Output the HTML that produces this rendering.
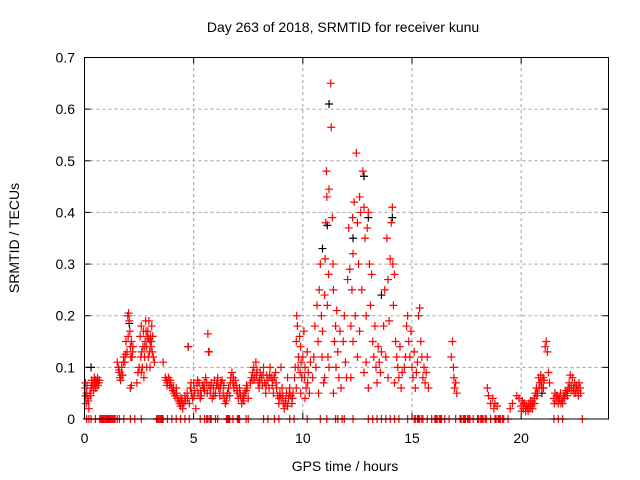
<!DOCTYPE html>
<html><head><meta charset="utf-8"><style>
body{margin:0;background:#fff;}
svg{display:block;font-family:"Liberation Sans",sans-serif;}
</style></head><body>
<svg id="chart" width="640" height="480">
<text x="343" y="32" text-anchor="middle" font-size="14">Day 263 of 2018, SRMTID for receiver kunu</text>
<text x="345" y="471" text-anchor="middle" font-size="14">GPS time / hours</text>
<text transform="translate(19,238) rotate(-90)" text-anchor="middle" font-size="14">SRMTID / TECUs</text>
<g id="grid"></g><g id="ticks"></g><g id="marks"></g>
<rect x="84.5" y="57.5" width="524" height="361.5" fill="none" stroke="#000" stroke-width="1"/>
</svg>
<script>
const xTicks=[0,5,10,15,20];
const yTicks=[0,0.1,0.2,0.3,0.4,0.5,0.6,0.7];
const yTickLabels=["0","0.1","0.2","0.3","0.4","0.5","0.6","0.7"];
const redPoints=[
[0.02,.06],[0.05,.045],[0.08,.03],[0.1,.05],[0.12,.065],[0.15,.04],[0.2,.02],[0.25,.05],[0.3,.06],[0.35,.065],[0.4,.07],[0.42,.055],[0.45,.08],[0.5,.075],[0.52,.06],[0.55,.07],[0.6,.08],[0.62,.065],[0.65,.07],
[0.04,.07],[0.18,.035],[0.33,.075],[0.47,.065],[0.58,.075],[0.68,.075],[0.28,.045],
[1.5,.11],[1.55,.1],[1.6,.09],[1.62,.08],[1.65,.075],[1.7,.1],[1.75,.085],[1.8,.12],[1.85,.11],[1.9,.15],[1.95,.13],[1.98,.2],[2.02,.205],[2.05,.19],[2.08,.17],[2.1,.14],[2.12,.12],[2.15,.15],[2.2,.13],[2.22,.14],[2.1,.06],[2.15,.065],
[1.58,.095],[1.68,.085],[1.88,.125],[2.0,.16],[2.18,.12],[1.78,.11],
[2.4,.07],[2.45,.09],[2.5,.1],[2.55,.16],[2.6,.18],[2.62,.13],[2.65,.1],[2.7,.17],[2.72,.08],[2.75,.12],[2.78,.15],[2.8,.19],[2.85,.14],[2.88,.16],[2.9,.17],[2.92,.12],[2.95,.19],[3.0,.15],[3.02,.16],[3.05,.14],[3.08,.18],[3.1,.13],[3.12,.16],[3.15,.12],[3.2,.11],[2.6,.09],[2.85,.1],[3.0,.1],
[2.68,.14],[2.82,.17],[2.98,.13],[3.06,.15],[2.58,.12],[2.76,.14],[2.94,.155],
[3.6,.11],[3.7,.08],[3.75,.075],[3.8,.07],[3.85,.08],[3.9,.065],[3.95,.07],[4.0,.06],[4.05,.055],[4.1,.05],[4.15,.045],[4.2,.06],[4.25,.04],[4.3,.035],[4.35,.03],[4.4,.025],[4.45,.04],[4.5,.02],[4.55,.03],[4.6,.045],
[3.78,.065],[3.92,.075],[4.08,.06],[4.22,.05],[4.38,.04],[4.48,.03],[4.62,.035],
[4.7,.05],[4.75,.14],[4.8,.03],[4.85,.06],[4.9,.05],[4.95,.04],[5.0,.07],[5.05,.055],[5.1,.02],[5.15,.065],[5.2,.05],[5.25,.07],[5.3,.04],[5.35,.045],[5.4,.065],[5.45,.06],[5.5,.055],[5.55,.08],[5.6,.07],[5.65,.165],[5.68,.13],[5.7,.065],[5.75,.05],[5.8,.07],[5.85,.04],[5.9,.06],[5.95,.075],[6.0,.05],[6.05,.065],[6.1,.08],[6.15,.06],[6.2,.045],[6.25,.07],[6.3,.075],[6.35,.05],[6.4,.04],[6.45,.03],[6.5,.035],[6.55,.05],[6.6,.06],[6.65,.045],[6.7,.08],[6.75,.09],[6.8,.07],[6.85,.06],[6.9,.075],[6.95,.065],[7.0,.05],[7.05,.04],[7.1,.06],[7.15,.045],[7.2,.03],[7.25,.04],[7.3,.035],[7.35,.05],[7.4,.055],[7.45,.06],[7.5,.04],
[4.72,.04],[4.88,.07],[5.02,.045],[5.18,.075],[5.32,.055],[5.48,.07],[5.62,.05],[5.78,.06],[5.92,.045],[6.08,.07],[6.22,.06],[6.38,.065],[6.52,.045],[6.68,.07],[6.82,.08],[6.98,.055],[7.12,.05],[7.28,.045],[7.42,.065],
[7.6,.07],[7.65,.08],[7.7,.09],[7.75,.1],[7.8,.08],[7.85,.11],[7.9,.095],[7.95,.07],[8.0,.06],[8.05,.09],[8.1,.08],[8.15,.065],[8.2,.1],[8.25,.07],[8.3,.05],[8.35,.085],[8.4,.075],[8.45,.06],[8.5,.1],[8.55,.08],[8.6,.065],[8.65,.05],[8.7,.08],[8.75,.09],[8.8,.06],[8.85,.045],[8.9,.03],[8.95,.05],[9.0,.04],[9.05,.06],[9.1,.03],[9.15,.02],[9.2,.035],[9.25,.05],[9.3,.025],[9.35,.04],[9.4,.06],[9.45,.045],[9.5,.03],[9.55,.05],[9.0,.1],[9.3,.08],
[7.72,.075],[7.88,.085],[8.02,.075],[8.18,.085],[8.32,.065],[8.48,.085],[8.62,.075],[8.78,.07],[8.92,.04],[9.08,.045],[9.22,.03],[9.38,.05],[9.52,.04],
[9.65,.1],[9.7,.15],[9.72,.2],[9.75,.18],[9.8,.12],[9.85,.16],[9.88,.09],[9.9,.14],[9.95,.08],[10.0,.12],[10.05,.17],[10.1,.1],[10.15,.06],[10.2,.13],[10.25,.09],[10.3,.05],[10.35,.11],[9.7,.06],[9.9,.05],[10.1,.04],
[9.62,.08],[9.78,.1],[9.92,.11],[10.08,.08],[10.22,.07],
[10.45,.08],[10.5,.12],[10.55,.18],[10.6,.1],[10.65,.22],[10.7,.15],[10.72,.05],[10.75,.25],[10.8,.3],[10.85,.2],[10.88,.12],[10.9,.17],[10.95,.07],[11.0,.24],[11.02,.31],[11.05,.38],[11.08,.48],[11.1,.43],[11.12,.22],[11.15,.12],[11.18,.28],[11.2,.445],[11.28,.65],[11.3,.565],[11.35,.39],[11.38,.3],[11.4,.25],[11.45,.15],[11.5,.18],[11.52,.1],[11.55,.21],[11.6,.13],[11.65,.08],[11.7,.17],[11.75,.06],[11.2,.1],[11.0,.08],[11.4,.05],
[11.85,.15],[11.9,.2],[11.95,.11],[12.0,.08],[12.05,.27],[12.1,.37],[12.15,.29],[12.2,.18],[12.25,.25],[12.28,.39],[12.3,.32],[12.35,.42],[12.4,.2],[12.45,.515],[12.5,.38],[12.55,.3],[12.6,.43],[12.65,.4],[12.7,.25],[12.75,.48],[12.8,.41],[12.85,.35],[12.9,.2],[12.95,.37],[13.0,.4],[13.05,.3],[13.1,.22],[13.15,.28],[13.2,.15],[13.25,.12],[13.3,.18],[13.35,.1],[13.4,.07],[13.45,.14],[13.5,.11],[13.55,.09],[13.6,.13],[12.2,.08],[12.5,.12],[12.8,.09],[13.0,.06],[12.3,.15],[12.6,.17],[12.9,.11],
[13.7,.18],[13.75,.25],[13.8,.12],[13.85,.35],[13.9,.27],[13.95,.19],[14.0,.31],[14.05,.38],[14.1,.41],[14.12,.3],[14.15,.22],[14.2,.28],[14.25,.15],[14.3,.12],[14.35,.1],[14.4,.08],[14.45,.14],[14.5,.06],[14.55,.09],[13.9,.08],[14.2,.07],
[14.65,.1],[14.7,.12],[14.75,.18],[14.8,.2],[14.85,.15],[14.9,.12],[14.95,.17],[15.0,.1],[15.05,.08],[15.1,.13],[15.15,.06],[15.2,.09],[15.25,.11],[15.3,.2],[15.35,.215],[15.4,.15],[15.45,.12],[15.5,.08],[15.55,.1],[15.6,.07],[15.65,.09],[15.7,.12],[15.75,.06],
[16.8,.12],[16.85,.15],[16.9,.1],[16.92,.08],[16.95,.06],[17.0,.07],[17.05,.05],
[18.45,.06],[18.5,.045],[18.6,.03],[18.7,.04],[18.75,.02],[18.8,.03],[18.9,.025],
[19.5,.02],[19.6,.03],[19.8,.045],[19.9,.04],[20.0,.025],[20.05,.035],[20.1,.02],[20.15,.03],[20.2,.015],[20.25,.025],[20.3,.02],[20.35,.03],[20.4,.02],[20.45,.025],[20.5,.035],[20.55,.03],[20.6,.04],[20.65,.05],[20.7,.06],[20.75,.05],[20.8,.08],[20.85,.07],[20.9,.085],[20.95,.06],[21.0,.08],[21.05,.075],[21.1,.14],[21.15,.15],[21.2,.13],[21.25,.09],[21.3,.07],
[20.02,.015],[20.12,.03],[20.22,.025],[20.32,.015],[20.42,.035],[20.52,.02],[20.62,.03],[20.72,.045],[20.82,.06],[20.92,.07],[21.02,.06],
[21.5,.04],[21.55,.05],[21.6,.035],[21.65,.045],[21.7,.03],[21.75,.04],[21.8,.05],[21.85,.035],[21.9,.03],[21.95,.045],[22.0,.04],[22.05,.055],[22.1,.05],[22.15,.06],[22.2,.07],[22.25,.085],[22.3,.065],[22.35,.08],[22.4,.06],[22.45,.07],[22.5,.05],[22.55,.065],[22.6,.055],[22.65,.07],[22.7,.06],
[21.52,.03],[21.62,.045],[21.72,.04],[21.82,.03],[21.92,.04],[22.02,.05],[22.12,.045],[22.22,.06],[22.32,.055],[22.42,.05],[22.52,.06],[22.62,.045],[22.72,.05]
];
const blackPoints=[[0.3,.1],[2.05,.185],[4.75,.14],[5.7,.13],[11.2,.61],[11.12,.375],[12.3,.35],[12.8,.47],[13.0,.39],[14.1,.39],[10.9,.33],[20.95,.05],[13.6,.24]];
const zeroHours=[0.1,0.2,0.3,0.5,0.7,0.8,0.9,1.0,1.1,1.2,1.3,1.4,1.5,1.6,1.8,2.1,2.3,2.6,3.3,3.4,3.5,3.6,3.8,4.0,4.2,4.4,4.6,4.8,5.3,5.5,5.6,5.8,6.0,6.1,6.5,6.6,6.8,7.0,7.1,7.4,7.5,8.2,8.4,8.7,8.9,9.4,9.6,10.2,10.8,11.1,11.5,11.6,11.8,11.9,12.3,13.0,13.2,13.4,13.6,13.8,14.0,14.2,14.4,14.8,15.1,15.3,15.5,15.7,15.9,16.1,16.3,16.5,16.7,17.0,17.2,17.4,17.6,17.8,18.0,18.2,18.4,18.6,18.8,19.0,19.2,19.4,21.5,21.7,21.9,22.8,
0.75,0.85,0.95,1.05,1.15,1.25,1.35,3.35,3.45,3.55,5.65,5.75,6.55,6.65,7.05,15.15,15.25,15.35,15.45,16.05,16.15,16.25,16.35,17.25,17.35,17.45,17.55,17.65,18.05,18.15,18.25,18.35,18.85,18.95,19.05,19.15];

const NS="http://www.w3.org/2000/svg";
const X0=84.5,X1=608.5,Y0=419,Y1=57.5;
function xs(h){return X0+(h/24)*(X1-X0);}
function ys(v){return Y0-(v/0.7)*(Y0-Y1);}
function mk(tag,attrs,parent){const e=document.createElementNS(NS,tag);for(const k in attrs)e.setAttribute(k,attrs[k]);parent.appendChild(e);return e;}
const grid=document.getElementById('grid'),ticks=document.getElementById('ticks'),marks=document.getElementById('marks');
xTicks.forEach(t=>{
  const x=xs(t);
  if(t>0){const g=mk('line',{x1:x,x2:x,y1:Y0,y2:Y1,stroke:'#a0a0a0','stroke-dasharray':'3,3'},grid);
  
  }
  mk('line',{x1:x,x2:x,y1:Y0,y2:Y0-6,stroke:'#000'},ticks);
  mk('line',{x1:x,x2:x,y1:Y1,y2:Y1+6,stroke:'#000'},ticks);
  const l=mk('text',{x:x,y:443,'text-anchor':'middle','font-size':'14'},ticks);
  l.textContent=String(t);
  
  
});
yTicks.forEach((t,i)=>{
  const y=ys(t);
  if(t>0&&t<0.7){const g=mk('line',{x1:X0,x2:X1,y1:y,y2:y,stroke:'#a0a0a0','stroke-dasharray':'3,3'},grid);
  
  }
  mk('line',{x1:X0,x2:X0+6,y1:y,y2:y,stroke:'#000'},ticks);
  mk('line',{x1:X1,x2:X1-6,y1:y,y2:y,stroke:'#000'},ticks);
  const l=mk('text',{x:75,y:y+5,'text-anchor':'end','font-size':'14'},ticks);
  l.textContent=yTickLabels[i];
  
  
});
function cross(h,v,color,name){
  const x=xs(h),y=ys(v);
  const p=mk('path',{d:`M${x-4},${y}H${x+4}M${x},${y-4}V${y+4}`,stroke:color,'stroke-width':'1.2',fill:'none'},marks);
  
  
}
blackPoints.forEach(p=>cross(p[0],p[1],'#000','black-point'));
redPoints.forEach(p=>cross(p[0],p[1],'#ff0000','red-point'));
zeroHours.forEach(h=>cross(h,0,'#ff0000','zero-point'));
</script>
</body></html>
